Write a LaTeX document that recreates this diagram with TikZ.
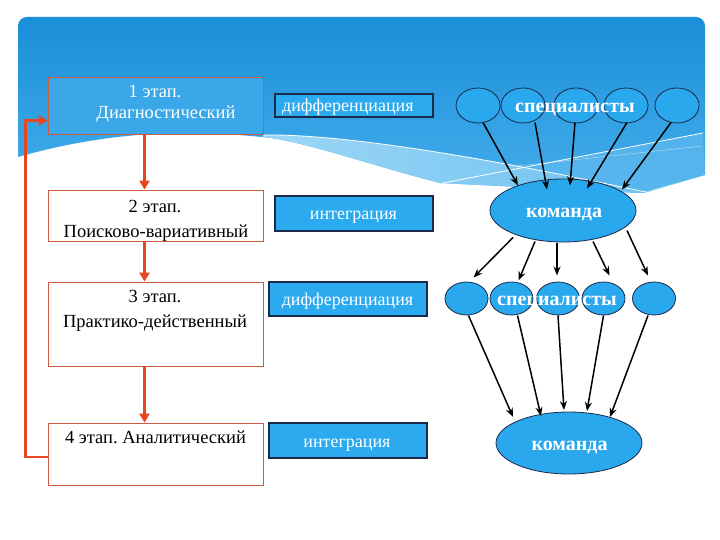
\documentclass[tikz,border=0pt]{standalone}
\usepackage{fontspec}
\setmainfont{Liberation Serif}
\usetikzlibrary{arrows.meta,shapes.geometric,calc}
\definecolor{bgtop}{HTML}{1A8ED8}
\definecolor{bgbot}{HTML}{45AEEC}
\definecolor{bandl}{HTML}{9CD6F5}
\definecolor{bandr}{HTML}{6EC2F0}
\definecolor{bandx}{HTML}{66BDF0}
\definecolor{boxblue}{HTML}{2BAAF0}
\definecolor{navy}{HTML}{1B2A48}
\definecolor{redline}{HTML}{E8461E}
\definecolor{boxred}{HTML}{CC5A40}
\definecolor{elfill}{HTML}{2AA8EE}
\definecolor{bonefill}{HTML}{3AA7E8}
\begin{document}
\begin{tikzpicture}[x=1pt,y=-1pt,
  stagebox/.style={draw=boxred,line width=0.8pt,minimum width=215pt,inner sep=0pt},
  midbox/.style={draw=navy,fill=boxblue,line width=1.1pt,minimum width=158pt,inner sep=0pt},
  txt/.style={anchor=base,inner sep=0pt,font=\fontsize{18.5}{22}\selectfont},
  wtxt/.style={txt,text=white},
  mtxt/.style={anchor=base,inner sep=0pt,text=white,font=\fontsize{18}{22}\selectfont},
  spec/.style={draw=navy,fill=elfill,ellipse,inner sep=0pt,line width=0.8pt},
  bigtxt/.style={anchor=base,inner sep=0pt,text=white,font=\fontsize{20}{24}\selectfont\bfseries},
  flow/.style={draw=redline,line width=2.8pt,-{Triangle[length=9pt,width=10pt]}},
  link/.style={draw=black,line width=1.5pt,-{Stealth[length=9pt,width=7pt]}}]
\useasboundingbox (0,0) rectangle (720,540);
\fill[white] (0,0) rectangle (720,540);
% background
\shade[top color=bgtop,bottom color=bgbot] (18,157) [rounded corners=9pt] -- (18,17) -- (705,17) [sharp corners] -- (705,175) -- (640,193) -- (440,183) .. controls (370,165) and (300,140) .. (262,137) .. controls (200,131) and (120,128) .. (18,157) -- cycle;
\shade[left color=bandl,right color=bandr] (263,135) .. controls (330,134) and (450,150) .. (650,193) -- (640,193) -- (440,183) .. controls (370,165) and (300,140) .. (263,137) -- cycle;
\fill[bandx,opacity=0.6] (525,167) -- (703,133) -- (705,175) -- (645,193) -- cycle;
\draw[white,line width=0.8pt] (263,135) .. controls (330,134) and (450,150) .. (650,193);
\draw[white,line width=0.8pt] (443,183) -- (703,133);
\draw[white,line width=0.5pt,opacity=0.5] (517,166) -- (703,146);
% stage boxes
\node[stagebox,fill=bonefill,minimum height=57pt] (b1) at (155.5,105.5) {};
\node[stagebox,fill=white,minimum height=51pt] (b2) at (155.5,215.5) {};
\node[stagebox,fill=white,minimum height=84pt] (b3) at (155.5,324) {};
\node[stagebox,fill=white,minimum height=62pt] (b4) at (155.5,454) {};
\node[wtxt] (b1a) at (155,98) {1 этап.};
\node[wtxt] (b1b) at (166,119) {Диагностический};
\node[txt] (b2a) at (155,213) {2 этап.};
\node[txt] (b2b) at (156,237) {Поисково-вариативный};
\node[txt] (b3a) at (155,302) {3 этап.};
\node[txt] (b3b) at (155,327) {Практико-действенный};
\node[txt] (b4a) at (155.5,443) {4 этап.\ Аналитический};
% middle boxes
\node[midbox,minimum height=23pt] (m1) at (354,105.5) {};
\node[mtxt,anchor=base west] (m1t) at (282,112) {дифференциация};
\node[midbox,minimum height=35pt] (m2) at (354,213.5) {};
\node[mtxt] (m2t) at (353.5,219) {интеграция};
\node[midbox,minimum height=34pt] (m3) at (348,299) {};
\node[mtxt] (m3t) at (347.5,305) {дифференциация};
\node[midbox,minimum height=35pt] (m4) at (348,440.5) {};
\node[mtxt] (m4t) at (347,447) {интеграция};
% red flow
\draw[flow] ([xshift=-11pt]b1.south) -- ([xshift=-11pt]b2.north);
\draw[flow] ([xshift=-11pt]b2.south) -- ([xshift=-11pt]b3.north);
\draw[flow] ([xshift=-11pt]b3.south) -- ([xshift=-11pt]b4.north);
\draw[flow] ([yshift=-3pt]b4.west) -- ++(-22,0) |- ([yshift=-15pt]b1.west);
% specialists row 1
\foreach \n/\x in {1/478,2/523,3/576,4/626,5/677}
  \node[spec,minimum width=44pt,minimum height=35pt] (t\n) at (\x,105.5) {};
\node[bigtxt] (st1) at (575,113) {специалисты};
\node[spec,minimum width=146pt,minimum height=63pt] (k1) at (563,210.5) {};
\node[bigtxt] (k1t) at (564,218) {команда};
% specialists row 2
\foreach \n/\x in {1/466.5,2/511.5,3/558,4/603.5,5/654}
  \node[spec,minimum width=43pt,minimum height=33pt] (s\n) at (\x,298.5) {};
\node[bigtxt] (st2) at (557,305) {специалисты};
\node[spec,minimum width=146pt,minimum height=62pt] (k2) at (569,443) {};
\node[bigtxt] (k2t) at (569.5,450) {команда};
% links
\draw[link] ($(t1)+(5,17)$) -- ($(k1)+(-45,-25)$);
\draw[link] ($(t2)+(12,17)$) -- ($(k1)+(-16,-21)$);
\draw[link] ($(t3)+(-1,17)$) -- ($(k1)+(7,-25)$);
\draw[link] ($(t4)+(1,17)$) -- ($(k1)+(24,-22)$);
\draw[link] ($(t5)+(-6,17)$) -- ($(k1)+(59,-21)$);
\draw[link] ($(k1)+(-50,27)$) -- ($(s1)+(7,-21)$);
\draw[link] ($(k1)+(-28,31)$) -- ($(s2)+(7,-18)$);
\draw[link] ($(k1)+(-6,32)$) -- ($(s3)+(-1,-23)$);
\draw[link] ($(k1)+(30,31)$) -- ($(s4)+(6,-23)$);
\draw[link] ($(k1)+(64,20)$) -- ($(s5)+(-6,-23)$);
\draw[link] ($(s1)+(2,17)$) -- ($(k2)+(-56,-26)$);
\draw[link] ($(s2)+(6,17)$) -- ($(k2)+(-28,-27)$);
\draw[link] ($(s3)+(0,17)$) -- ($(k2)+(-5,-33)$);
\draw[link] ($(s4)+(0,17)$) -- ($(k2)+(18,-32)$);
\draw[link] ($(s5)+(-6,17)$) -- ($(k2)+(41,-26)$);
\end{tikzpicture}
\end{document}
